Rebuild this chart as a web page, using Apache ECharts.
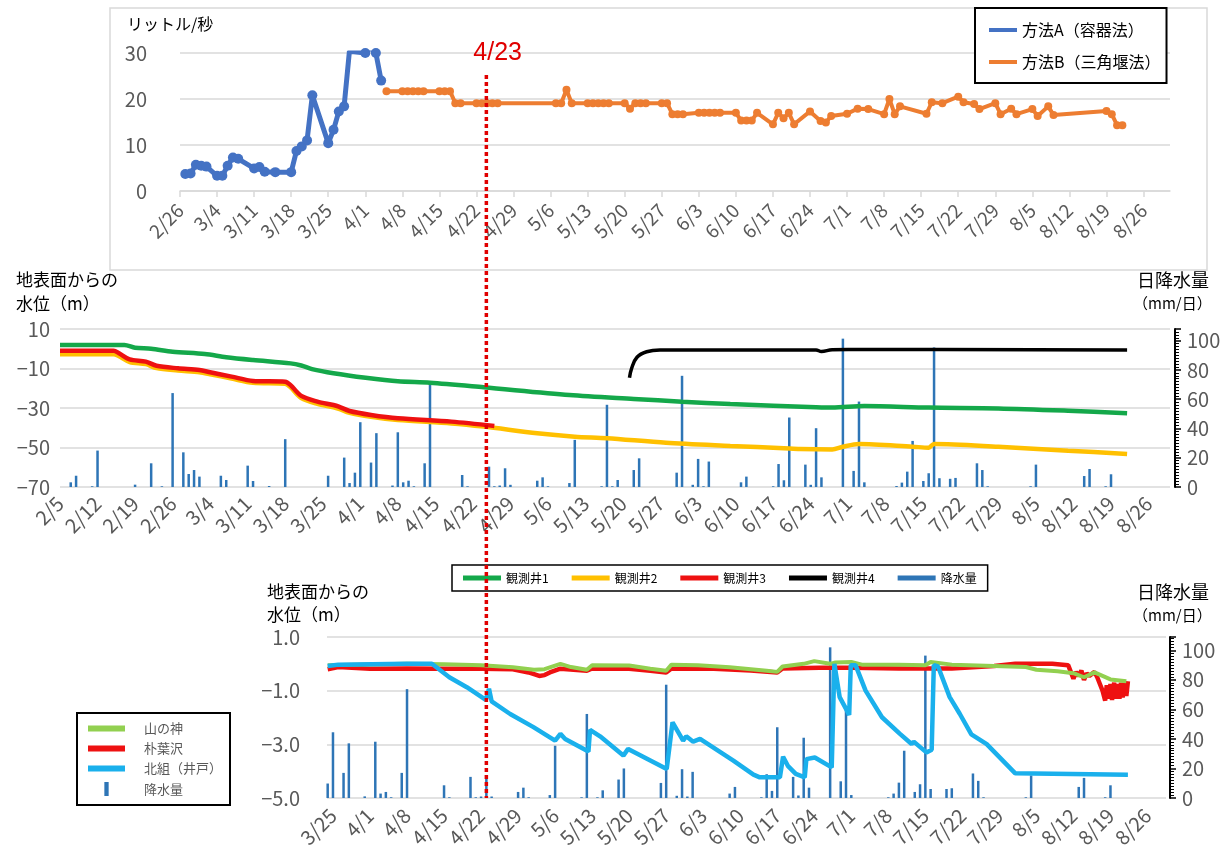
<!DOCTYPE html>
<html><head><meta charset="utf-8">
<script src="https://cdn.jsdelivr.net/npm/echarts@6/dist/echarts.min.js"></script>
<style>html,body{margin:0;padding:0;background:#fff}#c{width:1230px;height:857px}</style>
</head><body><div id="c"></div>
<script>
const YEAR = 2024;

// ---------- top panel: spring flow (L/s) ----------
const topTickLabels = ['2/26','3/4','3/11','3/18','3/25','4/1','4/8','4/15','4/22','4/29','5/6','5/13','5/20','5/27','6/3','6/10','6/17','6/24','7/1','7/8','7/15','7/22','7/29','8/5','8/12','8/19','8/26'];
const topRange = ['2/26','8/31'];
const flowADates = ['2/27','2/28','2/29','3/1','3/2','3/4','3/5','3/6','3/7','3/8','3/11','3/12','3/13','3/15','3/18','3/19','3/20','3/21','3/22','3/25','3/26','3/27','3/28','3/29','4/1','4/2','4/3','4/4'];
const flowAValues = [3.7,3.8,5.7,5.5,5.3,3.3,3.3,5.5,7.3,7.0,4.9,5.2,4.2,4.1,4.1,8.7,9.7,11.0,20.8,10.4,13.3,17.3,18.4,30.4,30.0,31.1,30.0,24.0];
const flowBDates = ['4/5','4/8','4/9','4/10','4/11','4/12','4/15','4/16','4/17','4/18','4/19','4/22','4/23','4/24','4/25','4/26','5/7','5/8','5/9','5/10','5/13','5/14','5/15','5/16','5/17','5/20','5/21','5/22','5/23','5/24','5/27','5/28','5/29','5/30','5/31','6/3','6/4','6/5','6/6','6/7','6/10','6/11','6/12','6/13','6/14','6/17','6/18','6/19','6/20','6/21','6/24','6/26','6/27','6/28','7/1','7/3','7/5','7/8','7/9','7/10','7/11','7/16','7/17','7/19','7/22','7/23','7/25','7/26','7/29','7/30','8/1','8/2','8/5','8/6','8/8','8/9','8/19','8/20','8/21','8/22'];
const flowBValues = [21.7,21.7,21.7,21.7,21.7,21.7,21.7,21.7,21.7,19.1,19.1,19.1,19.1,19.1,19.1,19.1,19.1,19.1,22.0,19.1,19.1,19.1,19.1,19.1,19.1,19.1,17.9,19.1,19.1,19.1,19.1,19.1,16.7,16.7,16.7,17.0,17.0,17.0,17.0,17.0,17.0,15.3,15.3,15.3,17.0,14.5,17.0,15.8,17.0,14.5,17.3,15.2,14.9,16.3,16.8,17.9,17.8,16.7,20.0,16.7,18.4,16.8,19.3,19.1,20.5,19.3,18.9,17.8,19.1,16.7,17.9,16.7,17.8,16.3,18.4,16.5,17.4,16.7,14.3,14.3];

// ---------- middle panel: observation wells (m) + rain ----------
const midTickLabels = ['2/5','2/12','2/19','2/26','3/4','3/11','3/18','3/25','4/1','4/8','4/15','4/22','4/29','5/6','5/13','5/20','5/27','6/3','6/10','6/17','6/24','7/1','7/8','7/15','7/22','7/29','8/5','8/12','8/19','8/26'];
const midRange = ['2/5','8/30'];
const well1Dates = ['2/5','2/17','2/19','2/22','2/26','3/3','3/7','3/12','3/19','3/21','3/23','3/27','4/2','4/8','4/14','4/24','5/10','5/22','5/31','6/9','6/25','6/28','7/4','7/16','7/29','8/11','8/22'];
const well1Values = [1.9,1.9,0.5,0,-1.5,-2.7,-4.3,-5.7,-7.4,-8.5,-10.3,-12.4,-14.7,-16.5,-17.2,-19.5,-23.4,-25.4,-26.8,-28,-29.6,-29.8,-29,-29.8,-30.2,-31.4,-32.7];
const well2Dates = ['2/5','2/15','2/16','2/18','2/21','2/23','2/27','3/2','3/4','3/8','3/12','3/18','3/19','3/21','3/24','3/27','3/28','3/30','4/3','4/8','4/18','4/24','5/4','5/11','5/17','5/28','6/9','6/19','6/22','6/28','6/30','7/3','7/13','7/16','7/17','7/29','8/11','8/22'];
const well2Values = [-2.8,-2.8,-3.8,-6.7,-7.8,-9.8,-11,-11.9,-12.9,-15.1,-17.2,-17.7,-19.5,-25,-27.9,-29.6,-30.4,-32.5,-34.5,-36.1,-37.8,-39.4,-42.8,-44.5,-45.3,-47.6,-49.2,-50.4,-50.8,-51,-49.6,-48.2,-49.6,-50.1,-48.2,-49.6,-51.6,-53.3];
const well3Dates = ['2/5','2/15','2/16','2/18','2/21','2/23','2/27','3/2','3/4','3/8','3/12','3/18','3/19','3/21','3/24','3/27','3/28','3/30','4/3','4/8','4/18','4/26'];
const well3Values = [-1,-1,-2.3,-5.4,-6.5,-8.6,-9.9,-10.8,-11.9,-14.1,-16.3,-16.7,-18.4,-23.9,-26.8,-28.5,-29.3,-31.5,-33.5,-35.2,-36.9,-39.1];
const well4Dates = ['5/21.2','5/21.6','5/22.6','5/24.4','5/26.9','6/20','6/25','6/26','6/28','7/1','8/22'];
const well4Values = [-14.7,-9.9,-4.3,-1.5,-0.6,-0.6,-0.6,-1.4,-0.5,-0.4,-0.6];
const rainMidDates = ['2/7','2/8','2/11','2/12','2/19','2/22','2/24','2/26','2/28','2/29','3/1','3/2','3/6','3/7','3/11','3/12','3/15','3/18','3/26','3/29','3/30','3/31','4/1','4/3','4/4','4/7','4/8','4/9','4/10','4/11','4/13','4/14','4/20','4/21','4/25','4/26','4/27','4/28','4/29','5/4','5/5','5/6','5/10','5/11','5/16','5/17','5/18','5/19','5/22','5/23','5/30','5/31','6/2','6/3','6/4','6/5','6/11','6/12','6/17','6/18','6/19','6/20','6/23','6/24','6/25','6/26','6/30','7/2','7/3','7/4','7/10','7/11','7/12','7/13','7/15','7/16','7/17','7/18','7/20','7/21','7/25','7/26','7/27','8/4','8/5','8/14','8/15','8/18','8/19'];
const rainMidValues = [3.2,7.7,0.5,24.9,1.6,16.2,0.5,64.2,23.7,8.9,11.6,7.1,7.7,4.8,14.6,4.1,0.7,32.7,7.7,20.1,2.7,9.8,44.3,16.7,36.8,1,37.4,3.2,4.3,0.5,16.2,72.1,8.2,0.5,13.9,0.5,1,12.8,1.5,4.3,6.6,0.5,2.7,32.2,0.5,56.2,0.5,4.8,11.6,19.6,9.8,76,1.5,19.2,0.5,17.4,3.2,7.1,0.5,15.7,4.6,47.5,15.3,1.5,40.2,6.6,101.4,11,58.4,3.2,0.7,3,10.5,31.5,4.1,9.4,95.4,6,5.6,6.2,16.2,11.6,0.5,0.5,15.3,7.5,12.3,0.5,8.7];

// ---------- bottom panel: surrounding wells (m) + rain ----------
const botTickLabels = ['3/25','4/1','4/8','4/15','4/22','4/29','5/6','5/13','5/20','5/27','6/3','6/10','6/17','6/24','7/1','7/8','7/15','7/22','7/29','8/5','8/12','8/19','8/26'];
const botRange = ['3/23.87','8/29.5'];
const yamaDates = ['3/24','4/8','4/15','4/22','4/28','5/2','5/4','5/7','5/9','5/12','5/13','5/20','5/24','5/27','5/28','6/2','6/8','6/15','6/17','6/18','6/22','6/24','6/27','6/28','7/1','7/3','7/10','7/15','7/16','7/20','7/28','8/3','8/5','8/9','8/12','8/14','8/16','8/19','8/22'];
const yamaValues = [-0.05,0,-0.02,-0.05,-0.13,-0.22,-0.2,0,-0.12,-0.22,-0.05,-0.06,-0.18,-0.26,-0.03,-0.05,-0.13,-0.26,-0.3,-0.1,0,0.1,0.0,0.05,0.07,-0.03,-0.03,-0.05,0.07,-0.03,-0.08,-0.12,-0.22,-0.28,-0.35,-0.5,-0.32,-0.58,-0.65];
const hoDates = ['3/24','3/26','4/1','4/8','4/15','4/22','4/28','5/1','5/3','5/4','5/5','5/7','5/12','5/13','5/20','5/24','5/27','5/28','6/5','6/12','6/17','6/18','6/25','7/1','7/10','7/20','7/28','8/1','8/8','8/11','8/12','8/12.5','8/13','8/13.5','8/14','8/14.5','8/15','8/16','8/16.5','8/17','8/17.5','8/18','8/18.3','8/18.7','8/19','8/19.3','8/19.7','8/20','8/20.3','8/20.7','8/21','8/21.3','8/21.7','8/22','8/22.3'];
const hoValues = [-0.2,-0.12,-0.18,-0.17,-0.18,-0.18,-0.2,-0.32,-0.45,-0.42,-0.32,-0.18,-0.26,-0.17,-0.18,-0.26,-0.32,-0.17,-0.18,-0.25,-0.32,-0.17,-0.15,-0.15,-0.17,-0.17,-0.08,0,0,-0.05,-0.55,-0.3,-0.45,-0.25,-0.6,-0.35,-0.45,-0.3,-0.5,-0.75,-1.0,-1.37,-0.8,-1.3,-0.75,-1.35,-0.7,-1.3,-0.75,-1.3,-0.7,-1.25,-0.72,-1.2,-0.65];
const kitaDates = ['3/24','3/26','4/8','4/12.7','4/16','4/19.3','4/22.9','4/23.5','4/24','4/27.5','5/1.9','5/6','5/7','5/7.9','5/12.3','5/12.6','5/14.5','5/18.9','5/19.8','5/27.1','5/28.2','5/30.2','5/30.8','6/1.1','6/2.4','6/8.7','6/12.5','6/13.7','6/17.5','6/18.1','6/19','6/20.5','6/22.2','6/22.5','6/24.1','6/27.3','6/27.8','6/28.8','6/30','6/30.6','6/30.9','7/1.8','7/3.7','7/6.8','7/10.2','7/12.4','7/12.8','7/15.2','7/16.2','7/16.6','7/17.4','7/19.6','7/21.5','7/23.7','7/26.6','8/1','8/22.3'];
const kitaValues = [-0.08,-0.03,0,0,-0.5,-0.87,-1.34,-0.93,-1.4,-1.87,-2.36,-2.86,-2.61,-2.8,-3.27,-2.46,-2.7,-3.42,-3.17,-3.92,-2.18,-2.86,-2.7,-2.9,-2.8,-3.61,-4.13,-4.23,-4.23,-3.46,-3.8,-4.1,-4.23,-3.55,-3.49,-3.86,0,-1.24,-1.68,-1.9,-0.05,-0.05,-1.0,-1.99,-2.61,-2.99,-2.9,-3.3,-3.2,-0.05,-0.1,-1.24,-1.86,-2.63,-2.99,-4.08,-4.13];
const rainBotDates = ['3/24','3/25','3/27','3/28','3/31','4/2','4/3','4/4','4/5','4/7','4/8','4/15','4/16','4/20','4/21','4/22','4/23','4/24','4/29','4/30','5/1','5/5','5/6','5/11','5/12','5/14','5/15','5/18','5/19','5/26','5/27','5/29','5/30','5/31','6/1','6/8','6/9','6/14','6/15','6/16','6/17','6/20','6/21','6/22','6/23','6/27','6/29','6/30','7/1','7/8','7/9','7/10','7/11','7/13','7/14','7/15','7/16','7/19','7/20','7/24','7/25','7/26','8/3','8/4','8/13','8/14','8/18','8/19'];
const rainBotValues = [9.8,44.5,17,37,1.1,38.1,3,4.1,0.5,17,73.7,8.6,0.5,14.3,0.5,1,13.2,1,4.1,7,0.5,2,35.4,0.5,56.9,0.5,5.2,12.5,20,10.2,76.7,1.5,19.5,1,17.7,3,7.5,0.5,16.1,4.8,47.9,14.3,1.7,40.8,7,102,11.3,59.7,2,0.5,3,10.4,32,4.1,9.3,96.4,6.1,6.1,6.6,16.6,11.6,0.5,0.5,15.3,7.5,13.6,0.5,8.6];

const markDate = '4/23';

// ---------- helpers ----------
const toDay = s => { const p = s.split('/'); return (Date.UTC(YEAR, +p[0] - 1, 1) - Date.UTC(YEAR, 0, 1)) / 864e5 + parseFloat(p[1]) - 1; };
const toLabel = v => { const dt = new Date(Date.UTC(YEAR, 0, 1) + Math.round(v) * 864e5); return (dt.getUTCMonth() + 1) + '/' + dt.getUTCDate(); };
const pairs = (ds, vs) => ds.map((d, i) => [toDay(d), vs[i]]);
const minus = v => String(v).replace('-', '\u2212');
const FONT = "'Noto Sans CJK JP', 'Noto Sans', sans-serif";
const GRAY = '#595959', GRID = '#d9d9d9';

function dateAxis(grid, ticks, range, showTick, size, margin) {
  const tv = ticks.map(toDay);
  return {
    type: 'value', gridIndex: grid, min: toDay(range[0]), max: toDay(range[1]), interval: 7,
    splitLine: { show: false },
    axisLine: { show: showTick, lineStyle: { color: GRID, width: 1.5 } },
    axisTick: { show: showTick, customValues: tv, length: 6, lineStyle: { color: GRID, width: 1.5 } },
    axisLabel: { customValues: tv, rotate: 45, formatter: toLabel, fontSize: size, color: GRAY, margin, fontFamily: FONT }
  };
}
function leftAxis(grid, min, max, interval, margin, fmt) {
  return {
    type: 'value', gridIndex: grid, min, max, interval, position: 'left',
    axisLine: { show: false }, axisTick: { show: false },
    splitLine: { lineStyle: { color: GRID, width: 1.5 } },
    axisLabel: { fontSize: 20, color: GRAY, margin, formatter: fmt, fontFamily: FONT }
  };
}
function rainAxis(grid, max, offset) {
  return {
    type: 'value', gridIndex: grid, min: 0, max, interval: 20, position: 'right', offset,
    splitLine: { show: false },
    axisLine: { show: true, lineStyle: { color: '#000', width: 2 } },
    axisTick: { show: true, length: 6, lineStyle: { color: '#000', width: 1.5 } },
    minorTick: { show: true, splitNumber: 10, length: 4, lineStyle: { color: '#000', width: 1 } },
    axisLabel: { customValues: [0, 20, 40, 60, 80, 100], fontSize: 20, color: GRAY, margin: 12, fontFamily: FONT }
  };
}
const lineS = (name, xi, yi, ds, vs, color, width, smooth) => ({
  name, type: 'line', xAxisIndex: xi, yAxisIndex: yi, data: pairs(ds, vs), symbol: 'none', smooth: smooth || false,
  lineStyle: { color, width }, itemStyle: { color }
});
const barS = (xi, yi, ds, vs) => ({
  name: '降水量', type: 'bar', xAxisIndex: xi, yAxisIndex: yi, data: pairs(ds, vs), barWidth: 2.5,
  itemStyle: { color: '#2e75b6' }
});

const option = {
  animation: false,
  textStyle: { fontFamily: FONT },
  grid: [
    { left: 180, right: 60, top: 53, height: 138 },
    { left: 60, right: 60, top: 329, height: 158 },
    { left: 327, right: 64, top: 637, height: 161 }
  ],
  xAxis: [
    dateAxis(0, topTickLabels, topRange, true, 19, 16),
    dateAxis(1, midTickLabels, midRange, false, 20, 13),
    dateAxis(2, botTickLabels, botRange, false, 20, 14)
  ],
  yAxis: [
    leftAxis(0, 0, 30, 10, 33),
    leftAxis(1, -70, 10, 20, 10, minus),
    rainAxis(1, 108, 5),
    leftAxis(2, -5, 1, 2, 27, v => minus(v.toFixed(1))),
    rainAxis(2, 109, 4)
  ],
  legend: [
    { orient: 'vertical', left: 975, top: 8, icon: 'rect', itemWidth: 28, itemHeight: 4, itemGap: 16,
      padding: [14, 6, 13, 14], borderColor: '#000', borderWidth: 2, backgroundColor: '#fff',
      textStyle: { fontSize: 16, color: '#000', fontFamily: FONT },
      data: ['方法A（容器法）', '方法B（三角堰法）'] },
    { orient: 'horizontal', left: 452, top: 565, icon: 'rect', itemWidth: 38, itemHeight: 5, itemGap: 23,
      padding: [7, 11], borderColor: '#000', borderWidth: 1.5, backgroundColor: '#fff',
      textStyle: { fontSize: 12, color: '#000', fontFamily: FONT },
      data: ['観測井1', '観測井2', '観測井3', '観測井4', '降水量'] },
    { orient: 'vertical', left: 77, top: 713, itemWidth: 37, itemHeight: 14, itemGap: 7,
      padding: [9, 8, 9, 11], borderColor: '#000', borderWidth: 2, backgroundColor: '#fff',
      textStyle: { fontSize: 13, color: GRAY, padding: [0, 0, 0, 14], fontFamily: FONT },
      data: [
        { name: '山の神', icon: 'path://M0,0H37V6H0Z' },
        { name: '朴葉沢', icon: 'path://M0,0H37V6H0Z' },
        { name: '北組（井戸）', icon: 'path://M0,0H37V6H0Z' },
        { name: '降水量', icon: 'path://M0,0H4V13H0Z' }
      ] }
  ],
  series: [
    { name: '方法A（容器法）', type: 'line', xAxisIndex: 0, yAxisIndex: 0, data: pairs(flowADates, flowAValues),
      symbol: 'circle', symbolSize: 10, lineStyle: { color: '#4472c4', width: 5 }, itemStyle: { color: '#4472c4' } },
    { name: '方法B（三角堰法）', type: 'line', xAxisIndex: 0, yAxisIndex: 0, data: pairs(flowBDates, flowBValues),
      symbol: 'circle', symbolSize: 8, lineStyle: { color: '#ed7d31', width: 4 }, itemStyle: { color: '#ed7d31' } },
    lineS('観測井2', 1, 1, well2Dates, well2Values, '#ffc000', 4.5, 0.3),
    lineS('観測井3', 1, 1, well3Dates, well3Values, '#ee1111', 4.5, 0.3),
    lineS('観測井1', 1, 1, well1Dates, well1Values, '#14a84a', 4.5, 0.3),
    lineS('観測井4', 1, 1, well4Dates, well4Values, '#000000', 3.5, 0.4),
    barS(1, 2, rainMidDates, rainMidValues),
    lineS('朴葉沢', 2, 3, hoDates, hoValues, '#ee1111', 4.5),
    lineS('山の神', 2, 3, yamaDates, yamaValues, '#92d050', 4),
    lineS('北組（井戸）', 2, 3, kitaDates, kitaValues, '#1ab0ec', 4.5),
    barS(2, 4, rainBotDates, rainBotValues)
  ]
};

const chart = echarts.init(document.getElementById('c'));
chart.setOption(option);

const lx = chart.convertToPixel({ xAxisIndex: 2 }, toDay(markDate));
const yBottom = chart.convertToPixel({ yAxisIndex: 3 }, -5);
const txt = (left, top, text, size, extra) => ({ type: 'text', left, top, z: 50,
  style: Object.assign({ text, fontSize: size, fill: '#000', fontFamily: FONT }, extra || {}) });

chart.setOption({
  graphic: [
    { type: 'rect', z: -10, shape: { x: 110, y: 8, width: 1097, height: 262 }, style: { fill: 'none', stroke: GRID, lineWidth: 1.5 } },
    txt(127, 16, 'リットル/秒', 16),
    txt(16, 271, '地表面からの', 17),
    txt(16, 295, '水位（m）', 17),
    txt(1137, 271, '日降水量', 18),
    txt(1133, 296, '（mm/日）', 15),
    txt(267, 583, '地表面からの', 17),
    txt(267, 606, '水位（m）', 17),
    txt(1137, 583, '日降水量', 18),
    txt(1133, 608, '（mm/日）', 15),
    { type: 'line', z: 100, shape: { x1: lx, y1: 75, x2: lx, y2: yBottom }, style: { stroke: '#e00000', lineWidth: 3.5, lineDash: [4, 3] } },
    txt(lx - 13, 41, markDate, 25, { fill: '#e00000', fontFamily: "'Liberation Sans', sans-serif" })
  ]
});
</script>
</body></html>
